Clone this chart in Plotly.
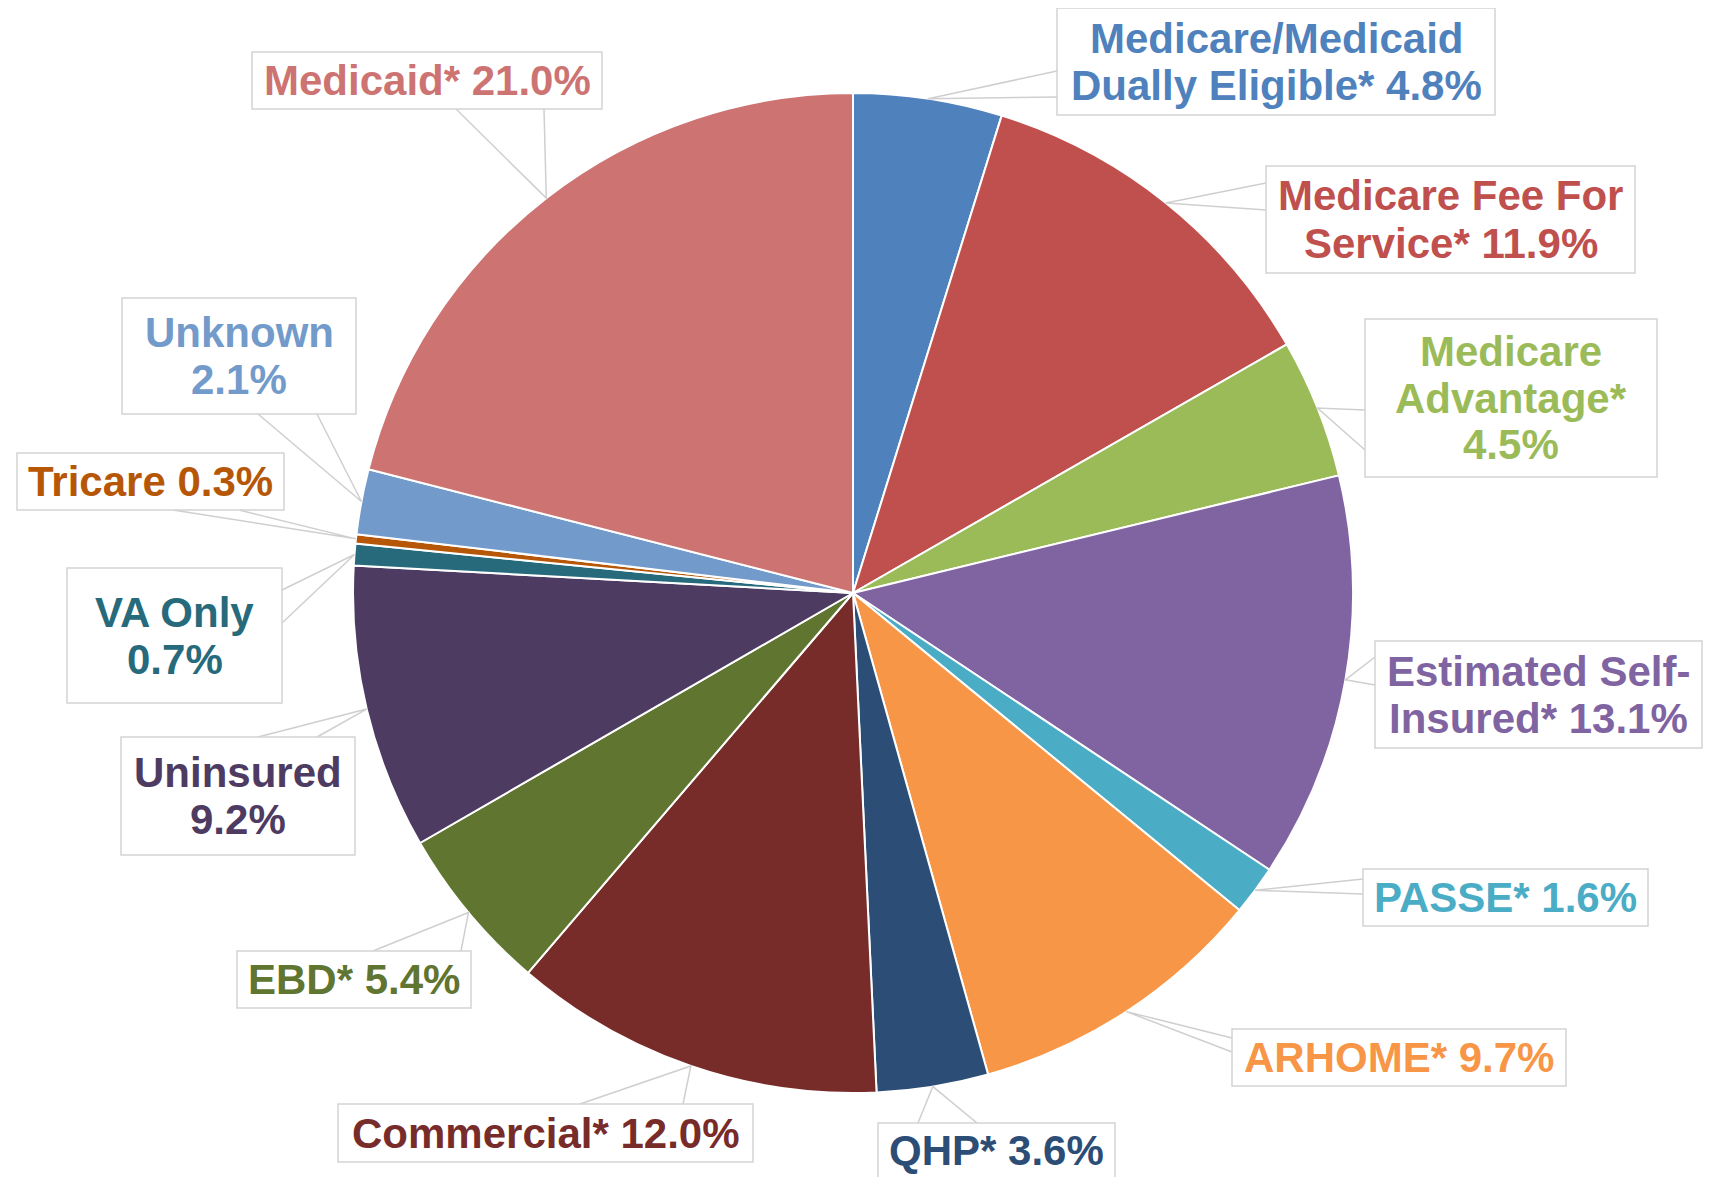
import math
import plotly.graph_objects as go

W, H = 1722, 1177
OFF = 8  # page margin the figure sits in

# data (clockwise from 12 o'clock)
categories = [
    "Medicare/Medicaid Dually Eligible*", "Medicare Fee For Service*",
    "Medicare Advantage*", "Estimated Self-Insured*", "PASSE*", "ARHOME*",
    "QHP*", "Commercial*", "EBD*", "Uninsured", "VA Only", "Tricare",
    "Unknown", "Medicaid*",
]
shares = [4.8, 11.9, 4.5, 13.1, 1.6, 9.7, 3.6, 12.0, 5.4, 9.2, 0.7, 0.3, 2.1, 21.0]
label_lines = [
    ["Medicare/Medicaid", "Dually Eligible* 4.8%"],
    ["Medicare Fee For", "Service* 11.9%"],
    ["Medicare", "Advantage*", "4.5%"],
    ["Estimated Self-", "Insured* 13.1%"],
    ["PASSE* 1.6%"],
    ["ARHOME* 9.7%"],
    ["QHP* 3.6%"],
    ["Commercial* 12.0%"],
    ["EBD* 5.4%"],
    ["Uninsured", "9.2%"],
    ["VA Only", "0.7%"],
    ["Tricare 0.3%"],
    ["Unknown", "2.1%"],
    ["Medicaid* 21.0%"],
]
colors = [
    "#4F81BD", "#C0504D", "#9BBB59", "#8064A2", "#4BACC6", "#F79646",
    "#2C4D75", "#772C2A", "#5F7530", "#4D3B62", "#276A7C", "#B65708",
    "#729ACA", "#CD7371",
]

# layout: pie centre / radius in pixels, label boxes and callout anchor points
CX, CY, R = 853, 593, 500
boxes = [
    (1057, 8, 1495, 115), (1266, 166, 1635, 273), (1365, 319, 1657, 477),
    (1375, 641, 1702, 748), (1363, 869, 1648, 926), (1232, 1029, 1566, 1086),
    (878, 1123, 1115, 1190), (338, 1104, 753, 1162), (237, 951, 471, 1008),
    (121, 737, 355, 855), (67, 568, 282, 703), (17, 453, 284, 510),
    (122, 298, 356, 414), (252, 52, 602, 109),
]
anchors = [
    ((1057, 71), (1057, 97)), ((1266, 183), (1266, 210)), ((1365, 410), (1365, 450)),
    ((1375, 657), (1375, 685)), ((1363, 879), (1363, 894)), ((1232, 1038), (1232, 1052)),
    ((918, 1123), (977, 1123)), ((580, 1104), (683, 1104)), ((373, 951), (461, 951)),
    ((258, 737), (317, 737)), ((282, 590), (282, 623)), ((173, 510), (239, 510)),
    ((258, 414), (317, 414)), ((456, 109), (544, 109)),
]
LINE_GAP = 47
FONT = "Liberation Sans, Arial, sans-serif"


def px(x):
    return (x - OFF) / W


def py(y):
    return 1 - (y - OFF) / H


fig = go.Figure(go.Pie(
    labels=categories,
    values=shares,
    sort=False,
    direction="clockwise",
    rotation=0,
    textinfo="none",
    hoverinfo="label+percent",
    marker=dict(colors=colors, line=dict(color="white", width=2)),
    domain=dict(x=[px(CX - R), px(CX + R)], y=[py(CY + R), py(CY - R)]),
    showlegend=False,
))

total = sum(shares)
shapes = []
annotations = []
cum = 0
for i, v in enumerate(shares):
    mid = (cum + v / 2) / total * 2 * math.pi
    cum += v
    tx = CX + R * math.sin(mid)
    ty = CY - R * math.cos(mid)
    (ax1, ay1), (ax2, ay2) = anchors[i]
    shapes.append(dict(
        type="path", xref="paper", yref="paper",
        path=f"M {px(ax1)},{py(ay1)} L {px(tx)},{py(ty)} L {px(ax2)},{py(ay2)}",
        line=dict(color="#CFCFCF", width=1.5),
    ))
    x0, y0, x1, y1 = boxes[i]
    shapes.append(dict(
        type="rect", xref="paper", yref="paper",
        x0=px(x0), x1=px(x1), y0=py(y1), y1=py(y0),
        fillcolor="white", line=dict(color="#D4D4D4", width=1.5),
    ))
    lines = label_lines[i]
    bc = (y0 + y1) / 2 if i != 6 else 1150
    for j, t in enumerate(lines):
        yy = bc + (j - (len(lines) - 1) / 2) * LINE_GAP
        annotations.append(dict(
            x=px((x0 + x1) / 2), y=py(yy), xref="paper", yref="paper",
            text=f"<b>{t}</b>", showarrow=False, xanchor="center", yanchor="middle",
            font=dict(family=FONT, size=42, color=colors[i]),
        ))

fig.update_layout(
    width=W, height=H,
    margin=dict(l=0, r=0, t=0, b=0),
    paper_bgcolor="white",
    plot_bgcolor="white",
    shapes=shapes,
    annotations=annotations,
)

fig.write_html("out.html")
